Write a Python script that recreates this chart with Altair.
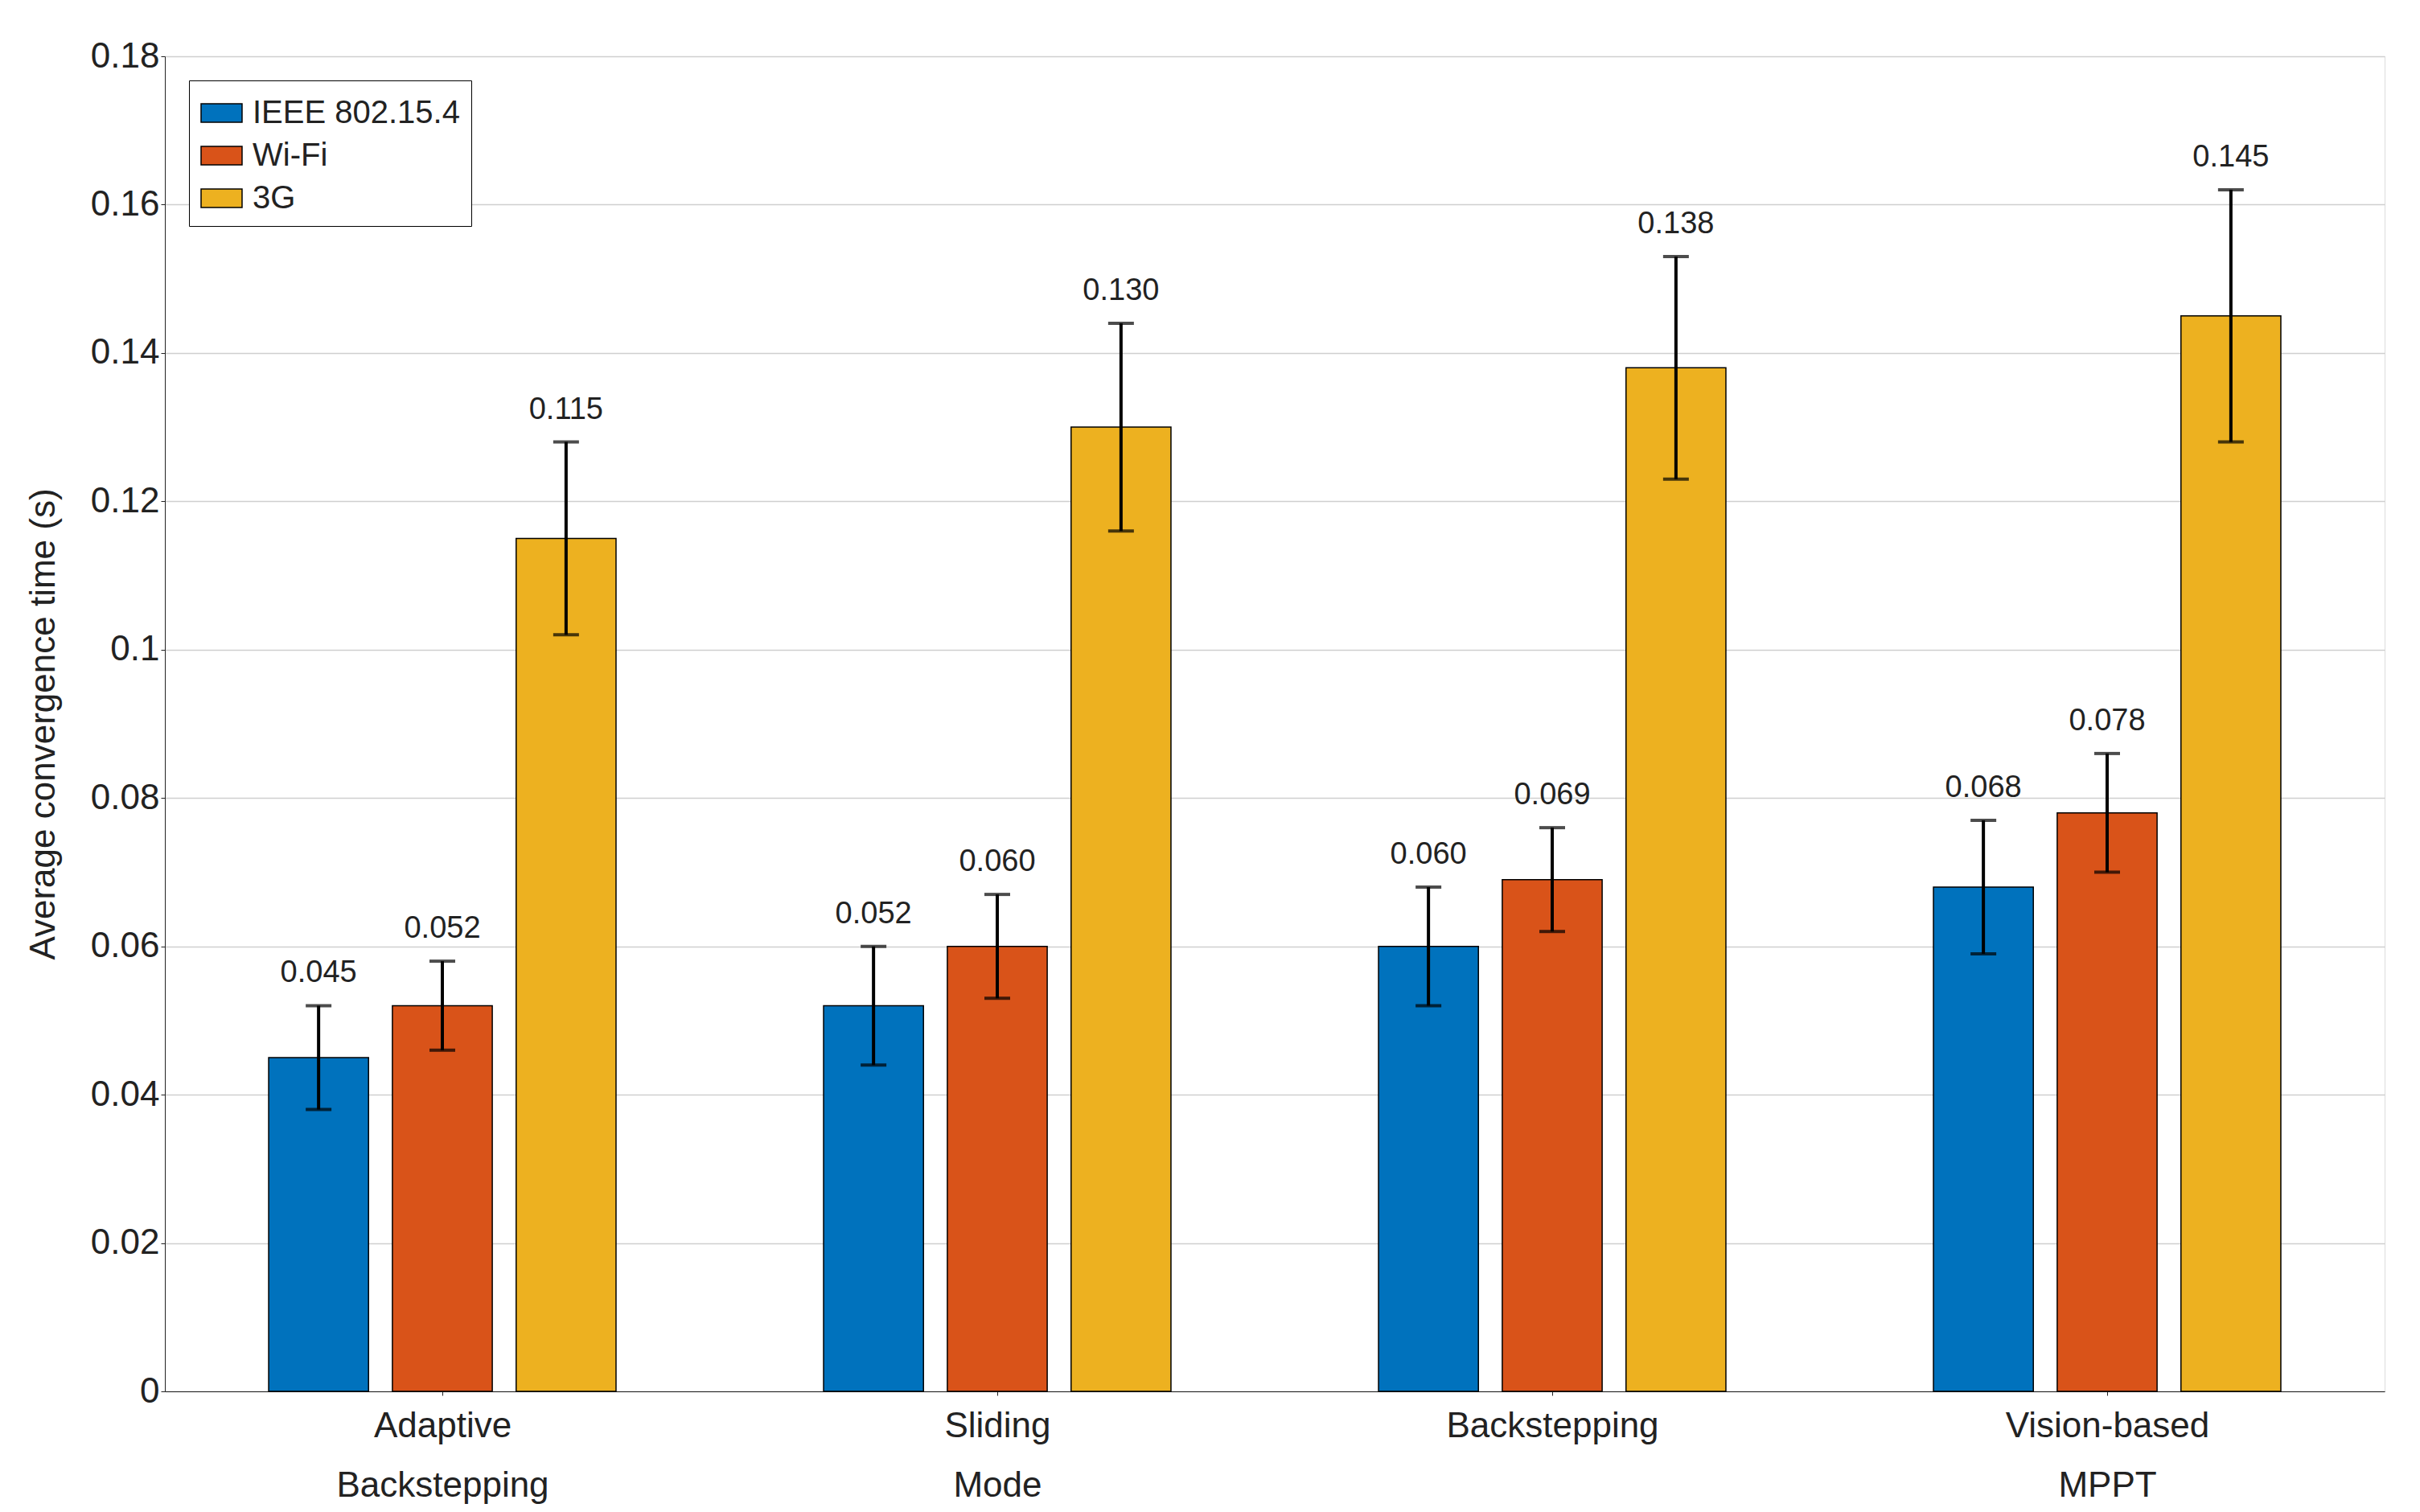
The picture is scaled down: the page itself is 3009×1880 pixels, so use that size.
import pandas as pd
import altair as alt

groups = ["Adaptive Backstepping", "Sliding Mode", "Backstepping", "Vision-based MPPT"]
series = ["IEEE 802.15.4", "Wi-Fi", "3G"]
colors = ["#0072BD", "#D95319", "#EDB120"]

means = [
    [0.045, 0.052, 0.115],
    [0.052, 0.060, 0.130],
    [0.060, 0.069, 0.138],
    [0.068, 0.078, 0.145],
]
lows = [
    [0.038, 0.046, 0.102],
    [0.044, 0.053, 0.116],
    [0.052, 0.062, 0.123],
    [0.059, 0.070, 0.128],
]
highs = [
    [0.052, 0.058, 0.128],
    [0.060, 0.067, 0.144],
    [0.068, 0.076, 0.153],
    [0.077, 0.086, 0.162],
]

offsets = [-0.223, 0.0, 0.223]
half = 0.09

rows = []
for i, g in enumerate(groups):
    for j, s in enumerate(series):
        pos = i + 1 + offsets[j]
        rows.append({"group": g, "series": s, "pos": pos, "x0": pos - half, "x1": pos + half,
                     "mean": means[i][j], "lo": lows[i][j], "hi": highs[i][j],
                     "label": f"{means[i][j]:.3f}"})
df = pd.DataFrame(rows)

font = "Liberation Sans"
xscale = alt.Scale(domain=[0.5, 4.5], nice=False, zero=False)
yscale = alt.Scale(domain=[0, 0.18], nice=False)

label_expr = ("datum.value == 1 ? ['Adaptive', 'Backstepping'] : datum.value == 2 ? ['Sliding', 'Mode'] : "
              "datum.value == 3 ? 'Backstepping' : ['Vision-based', 'MPPT']")

base = alt.Chart(df)

bars = base.mark_bar(stroke="black", strokeWidth=1.5).encode(
    x=alt.X("x0:Q", scale=xscale, axis=alt.Axis(values=[1, 2, 3, 4], labelExpr=label_expr, title=None,
                                                 grid=False, labelFontSize=44, labelFont=font,
                                                 labelColor="#222", labelPadding=16, labelLineHeight=74,
                                                 labelLimit=0, tickColor="#222", domainColor="#222")),
    x2="x1:Q",
    y=alt.Y("mean:Q", scale=yscale, axis=alt.Axis(values=[i * 0.02 for i in range(10)],
                                                  labelExpr="datum.value == 0 ? '0' : format(datum.value, '.2~f')",
                                                  title="Average convergence time (s)", titleFontSize=44,
                                                  titleFont=font, titleFontWeight="normal", titleColor="#222",
                                                  labelFontSize=44, labelFont=font, labelColor="#222",
                                                  gridColor="#cfcfcf", gridWidth=1.5, domainColor="#222",
                                                  tickColor="#222", titlePadding=36)),
    y2=alt.datum(0),
    color=alt.Color("series:N", scale=alt.Scale(domain=series, range=colors),
                    legend=alt.Legend(title=None, orient="top-left", offset=30, labelFontSize=40,
                                      labelFont=font, labelColor="#222", strokeColor="black",
                                      fillColor="white", padding=14, labelLimit=0,
                                      symbolType="M-1,-0.45H1V0.45H-1Z", symbolSize=2600,
                                      symbolStrokeColor="black", symbolStrokeWidth=1.5,
                                      rowPadding=6, labelOffset=12)),
)

rules = base.mark_rule(color="black", strokeWidth=4).encode(x="pos:Q", y="lo:Q", y2="hi:Q")
caps_lo = base.mark_tick(color="black", thickness=4, size=32, orient="horizontal").encode(x="pos:Q", y="lo:Q")
caps_hi = base.mark_tick(color="black", thickness=4, size=32, orient="horizontal").encode(x="pos:Q", y="hi:Q")
texts = base.mark_text(dy=-40, fontSize=38, font=font, color="#222").encode(x="pos:Q", y="hi:Q", text="label:N")

chart = alt.layer(bars, rules, caps_lo, caps_hi, texts).properties(
    width=2760, height=1660, padding={"left": 24, "top": 40, "right": 20, "bottom": 10}
).configure_view(stroke="#222", strokeWidth=2).configure(background="white")

chart.save("out.html", embed_options={"renderer": "svg", "actions": False})
